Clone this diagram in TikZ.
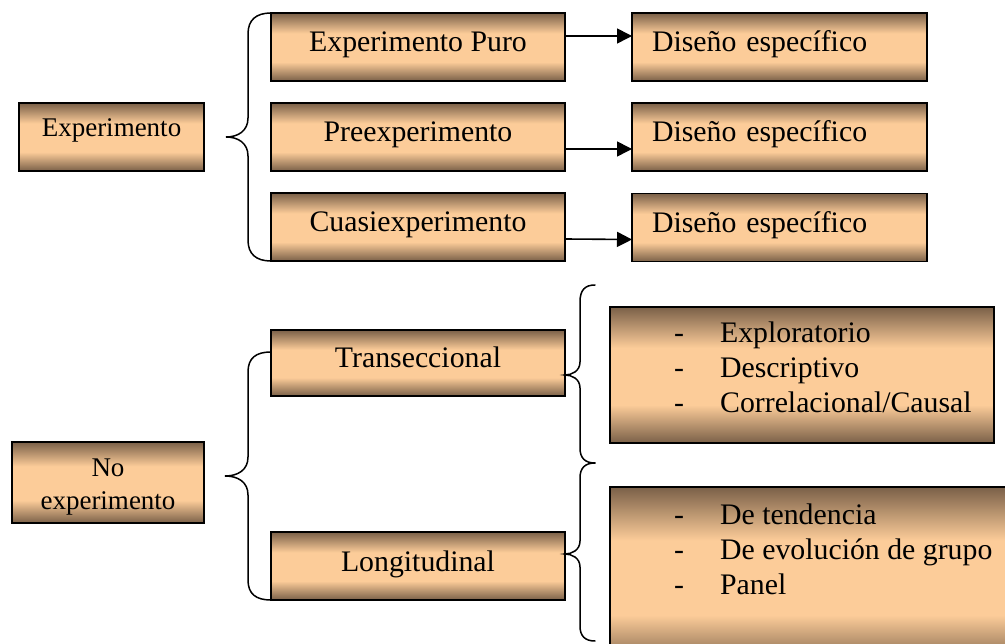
\documentclass[tikz,border=0pt]{standalone}
\usepackage{fontspec}
\setmainfont{Liberation Serif}
\usetikzlibrary{arrows.meta}
\definecolor{dk}{RGB}{122,96,72}
\definecolor{lt}{RGB}{252,204,153}
\pgfdeclareverticalshading{boxshade}{100bp}{color(0bp)=(dk); color(25bp)=(dk); color(39bp)=(lt); color(60bp)=(lt); color(75bp)=(dk); color(100bp)=(dk)}
\tikzset{
  box/.style={draw=black, line width=1.9pt, shading=boxshade, rectangle, inner sep=0pt, outer sep=0pt},
  bigfont/.style={font=\fontsize{29.8}{35}\selectfont},
  smallfont/.style={font=\fontsize{27}{33}\selectfont},
  midbox/.style={box, bigfont, minimum width=294pt, minimum height=68pt, text height=15pt, text depth=5pt},
  disbox/.style={box, bigfont, minimum width=295pt, minimum height=68pt, text width=255pt, inner xsep=20pt, align=left, text height=15pt, text depth=5pt},
  leftbox/.style={box, smallfont},
  brace/.style={line width=1.5pt, line cap=round},
  arr/.style={line width=1.6pt, -{Triangle[length=15pt,width=15pt]}},
  listtext/.style={bigfont, inner sep=0pt, anchor=base west},
}
\begin{document}
\begin{tikzpicture}[x=1pt,y=-1pt]
\useasboundingbox (0,0) rectangle (1005,644);
% left boxes
\node[leftbox, minimum width=185pt, minimum height=68pt, text height=10pt, text depth=10pt] (exp) at (111.5,137) {Experimento};
\node[leftbox, minimum width=192pt, minimum height=81pt] (nexp) at (108,482.5) {};
\node[smallfont, inner sep=0pt, anchor=base] (nexpt) at (108,477) {\begin{tabular}[t]{@{}c@{}}No\\experimento\end{tabular}};
% middle boxes
\node[midbox] (ep) at (418,47) {Experimento Puro};
\node[midbox] (pre) at (418,137) {Preexperimento};
\node[midbox] (cu) at (418,227) {Cuasiexperimento};
\node[midbox, minimum height=66pt] (tr) at (418,363) {Transeccional};
\node[midbox] (lo) at (418,566) {Longitudinal};
% right boxes
\node[disbox] (d1) at (779.5,47) {Diseño específico};
\node[disbox] (d2) at (779.5,137) {Diseño específico};
\node[disbox] (d3) at (779.5,227.5) {Diseño específico};
\node[box, minimum width=384pt, minimum height=136pt] (l1) at (802,375) {};
\node[box, minimum width=405pt, minimum height=178pt] (l2) at (812.5,576) {};
\node[listtext] (l1t) at (674,343) {\begin{tabular}[t]{@{}l@{\hspace{36pt}}l@{}}-&Exploratorio\\-&Descriptivo\\-&Correlacional/Causal\end{tabular}};
\node[listtext] (l2t) at (674,525) {\begin{tabular}[t]{@{}l@{\hspace{36pt}}l@{}}-&De tendencia\\-&De evolución de grupo\\-&Panel\end{tabular}};
% arrows
\draw[arr] ([yshift=11pt]ep.east) -- ([yshift=11pt]d1.west);
\draw[arr] ([yshift=-12pt]pre.east) -- ([yshift=-12pt]d2.west);
\draw[arr] ([yshift=-12pt]cu.east) -- ([yshift=-12pt]d3.west);
% braces
\coordinate (b1tip) at (226,137);
\draw[brace] (ep.north west) .. controls (256,13) and (248,20) .. (248,34) -- (248,118) .. controls (248,131) and (238,137) .. (b1tip) .. controls (238,137) and (248,143) .. (248,156) -- (248,240) .. controls (248,254) and (256,261) .. (cu.south west);
\coordinate (b2tip) at (225,476);
\draw[brace] ([yshift=11pt]tr.west) .. controls (256,352) and (248,358) .. (248,372) -- (248,457) .. controls (248,470) and (238,476) .. (b2tip) .. controls (238,476) and (248,482) .. (248,495) -- (248,580) .. controls (248,594) and (256,600) .. (lo.south west);
\coordinate (b3top) at (595,285);
\coordinate (b3mid) at (595,463);
\coordinate (b3bot) at (595,641);
\draw[brace] (b3top) .. controls (585,285) and (580,290) .. (580,302) -- (580,362) .. controls (580,371) and (572,375) .. ([yshift=-12pt]tr.east) .. controls (572,375) and (580,379) .. (580,388) -- (580,448) .. controls (580,458) and (585,463) .. (b3mid);
\draw[brace] (b3mid) .. controls (585,463) and (580,468) .. (580,478) -- (580,541) .. controls (580,550) and (572,554) .. ([yshift=12pt]lo.east) .. controls (572,554) and (580,558) .. (580,567) -- (580,626) .. controls (580,636) and (585,641) .. (b3bot);
\end{tikzpicture}
\end{document}
